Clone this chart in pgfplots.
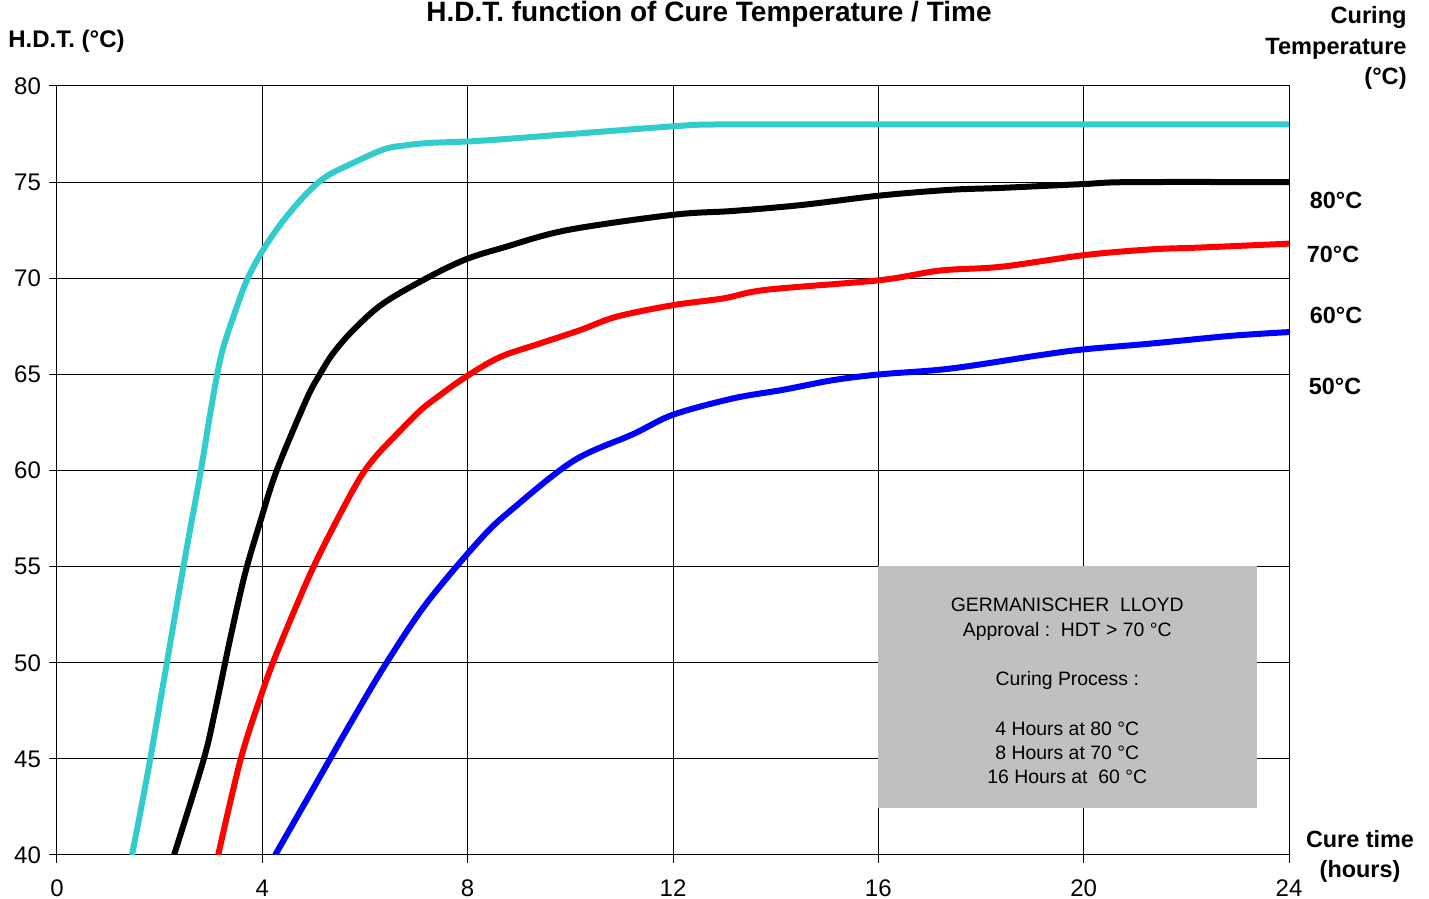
\documentclass[border=0pt]{standalone}
\usepackage{pgfplots}
\pgfplotsset{compat=1.18}
\usepackage{fontspec}
\setmainfont{Liberation Sans}
\definecolor{cyanc}{RGB}{51,204,204}
\definecolor{boxgray}{RGB}{192,192,192}
\begin{document}
\begin{tikzpicture}
\useasboundingbox (-28.5pt,-22pt) rectangle (686pt,427.5pt);
\begin{axis}[
  at={(0,0)}, anchor=south west,
  scale only axis, width=616pt, height=384.5pt,
  xmin=0, xmax=24, ymin=40, ymax=80,
  xtick={0,4,...,24}, ytick={40,45,...,80},
  grid=major, major grid style={black, line width=0.5pt},
  axis line style={black, line width=0.5pt},
  tick style={black, line width=0.5pt},
  tick align=outside, tick pos=left, major tick length=4pt,
  /pgf/number format/assume math mode=true,
  ticklabel style={font=\fontsize{12}{14}\selectfont},
  xticklabel style={yshift=-5pt},
  yticklabel style={xshift=-0.5pt},
  clip=true,
]
\fill[boxgray] (axis cs:16,42.44) rectangle (axis cs:23.38,55.03);
\begin{scope}[every node/.style={anchor=base, font=\fontsize{9.7}{12}\selectfont, inner sep=0pt}]
\node at (axis cs:19.68,52.64) {GERMANISCHER\ \ LLOYD};
\node at (axis cs:19.68,51.39) {Approval :\ \ HDT > 70 °C};
\node at (axis cs:19.68,48.84) {Curing Process :};
\node at (axis cs:19.68,46.24) {4 Hours at 80 °C};
\node at (axis cs:19.68,44.99) {8 Hours at 70 °C};
\node at (axis cs:19.68,43.70) {16 Hours at\ \ 60 °C};
\end{scope}
% 80 C (cyan)
\addplot[cyanc, line width=3pt, smooth, tension=0.55] coordinates {
(1.46,40) (1.81,44.9) (2.45,54.8) (2.79,59.8) (3.0,63.2) (3.2,66.0) (3.45,68.1) (3.70,69.9) (4.02,71.5) (4.41,73.0) (4.86,74.4) (5.25,75.3) (5.77,76.0) (6.36,76.7) (6.75,76.9) (7.27,77.04) (8.24,77.15) (10.0,77.5) (12.0,77.9) (12.9,78.0) (16,78) (20,78) (24,78)};
% 70 C (black)
\addplot[black, line width=3pt, smooth, tension=0.55] coordinates {
(2.28,40) (2.85,44.9) (3.08,47.5) (3.37,51.2) (3.66,54.6) (3.95,57.25) (4.28,60.0) (4.86,63.7) (5.12,65.0) (5.38,66.1) (5.77,67.3) (6.36,68.7) (7.27,70.1) (7.98,71.0) (8.7,71.6) (9.93,72.5) (12.0,73.3) (13.17,73.5) (14.47,73.8) (16.03,74.3) (17.4,74.6) (18.4,74.7) (20.0,74.9) (20.9,75.0) (24,75.0)};
% 60 C (red)
\addplot[red, line width=3pt, smooth, tension=0.55] coordinates {
(3.14,40) (3.57,44.9) (3.95,48.1) (4.28,50.5) (4.93,54.6) (5.45,57.4) (5.90,59.6) (6.2,60.7) (6.55,61.7) (7.07,63.1) (7.40,63.8) (7.98,64.9) (8.63,65.9) (9.4,66.6) (10.19,67.3) (10.9,68.0) (12.0,68.6) (12.98,68.95) (13.82,69.4) (16.03,69.9) (17.2,70.4) (18.4,70.6) (20.0,71.2) (21.3,71.5) (22.3,71.6) (24,71.8)};
% 50 C (blue)
\addplot[blue, line width=3pt, smooth, tension=0.55] coordinates {
(4.25,40) (5.0,43.5) (5.75,47.0) (6.42,50.0) (7.2,53.1) (8.24,56.4) (8.83,57.9) (10.06,60.5) (11.23,61.9) (12.0,62.9) (13.17,63.75) (14.15,64.2) (15.12,64.7) (16.03,65.0) (17.4,65.3) (19.15,66.0) (20.0,66.3) (21.3,66.6) (22.85,67.0) (24,67.2)};
\end{axis}
\node[font=\bfseries\fontsize{14}{16}\selectfont] at (326pt,420.5pt) {H.D.T. function of Cure Temperature / Time};
\node[font=\bfseries\fontsize{12}{14}\selectfont, anchor=west, inner sep=0pt] at (-24.5pt,407pt) {H.D.T. (°C)};
\node[font=\bfseries\fontsize{11.8}{15.3}\selectfont, anchor=east, align=right, inner sep=0pt] at (675pt,403.5pt) {Curing\\Temperature\\(°C)};
\node[font=\bfseries\fontsize{11.7}{13}\selectfont] at (639.5pt,327.5pt) {80°C};
\node[font=\bfseries\fontsize{11.7}{13}\selectfont] at (638pt,300.5pt) {70°C};
\node[font=\bfseries\fontsize{11.7}{13}\selectfont] at (639.5pt,270pt) {60°C};
\node[font=\bfseries\fontsize{11.7}{13}\selectfont] at (639pt,234.5pt) {50°C};
\node[font=\bfseries\fontsize{11.7}{15}\selectfont, align=center] at (651.5pt,-0.5pt) {Cure time\\(hours)};
\end{tikzpicture}
\end{document}
